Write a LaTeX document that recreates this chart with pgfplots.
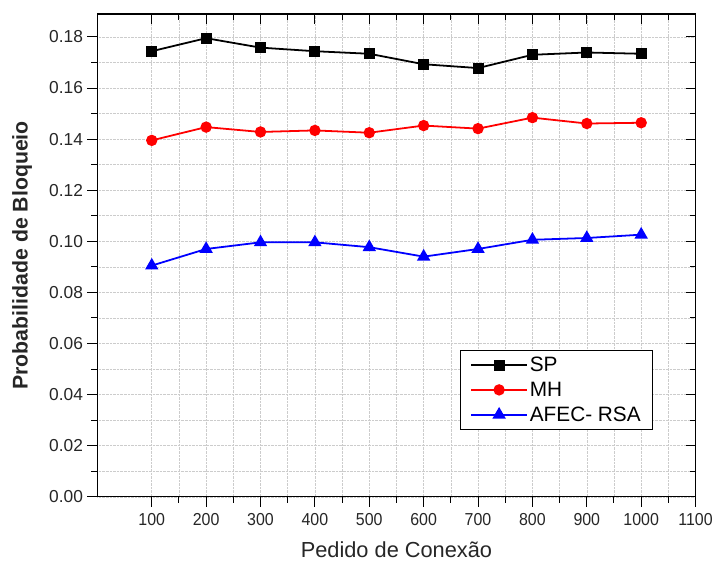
\documentclass[border=0pt]{standalone}
\usepackage{fontspec}
\setmainfont{Liberation Sans}
\newfontfamily\narrowfont[FakeStretch=0.92]{Liberation Sans}
\usepackage{pgfplots}
\pgfplotsset{compat=1.18}
\begin{document}
\begin{tikzpicture}
\begin{axis}[
  scale only axis,
  width=602bp, height=486bp,
  xmin=0, xmax=1100, ymin=0, ymax=0.189,
  xtick={100,200,...,1100},
  minor x tick num=1,
  ytick={0,0.02,...,0.18},
  minor y tick num=1,
  tick align=outside,
  xtick pos=left, ytick pos=left,
  major tick length=10bp, minor tick length=6bp,
  every tick/.style={black, line width=1pt},
  axis line style={line width=1.2pt},
  grid=both,
  major grid style={densely dotted, gray!40, line width=0.6pt},
  minor grid style={densely dotted, gray!40, line width=0.6pt},
  /pgf/number format/assume math mode=true,
  /pgf/number format/set thousands separator={},
  yticklabel style={/pgf/number format/fixed, /pgf/number format/fixed zerofill, /pgf/number format/precision=2,
     font=\fontsize{17.5}{19}\selectfont, xshift=-1bp},
  scaled y ticks=false,
  xticklabel style={font=\narrowfont\fontsize{17.5}{19}\selectfont, yshift=-3bp},
  tick label style={text=black!85},
  xlabel={Pedido de Conexão},
  ylabel={\bfseries Probabilidade de Bloqueio},
  label style={text=black!85},
  xlabel style={font=\fontsize{22}{24}\selectfont, at={(axis description cs:0.5,-0.109)}, anchor=center},
  ylabel style={font=\fontsize{21.5}{24}\selectfont, at={(axis description cs:-0.126,0.5)}, anchor=center},
  legend style={at={(0.606,0.305)}, anchor=north west, draw=black, line width=1.2pt,
    font=\fontsize{21}{23}\selectfont, row sep=5pt, inner xsep=10bp, inner ysep=5bp},
  legend image code/.code={\draw[mark repeat=2,mark phase=2] plot coordinates {(0bp,0bp) (28bp,0bp) (56bp,0bp)};},
  legend cell align=left,
  every axis plot/.append style={line width=1.8pt},
]
\addplot[black, mark=square*, mark size=4.6bp, mark options={solid}] coordinates {
(100,0.1744) (200,0.1795) (300,0.1758) (400,0.1744) (500,0.1734)
(600,0.1693) (700,0.1678) (800,0.1730) (900,0.1739) (1000,0.1734)};
\addlegendentry{SP}
\addplot[red, mark=*, mark size=4.8bp] coordinates {
(100,0.1395) (200,0.1447) (300,0.1428) (400,0.1434) (500,0.1425)
(600,0.1453) (700,0.1441) (800,0.1484) (900,0.1461) (1000,0.1464)};
\addlegendentry{MH}
\addplot[blue, mark=triangle*, mark size=6bp] coordinates {
(100,0.0905) (200,0.0970) (300,0.0996) (400,0.0996) (500,0.0977)
(600,0.0940) (700,0.0970) (800,0.1006) (900,0.1013) (1000,0.1026)};
\addlegendentry{AFEC- RSA}
\end{axis}
\begin{axis}[
  scale only axis,
  width=602bp, height=486bp,
  xmin=0, xmax=1100, ymin=0, ymax=0.189,
  xtick={100,200,...,1100},
  minor x tick num=1,
  ytick={0,0.02,...,0.18},
  minor y tick num=1,
  tick align=inside,
  xtick pos=right, ytick pos=right,
  major tick length=10bp, minor tick length=6bp,
  every tick/.style={black, line width=1pt},
  xticklabels={}, yticklabels={},
  axis line style={draw=none},
]
\end{axis}
\useasboundingbox (-98bp,-72bp) rectangle (618bp,500bp);
\end{tikzpicture}
\end{document}
